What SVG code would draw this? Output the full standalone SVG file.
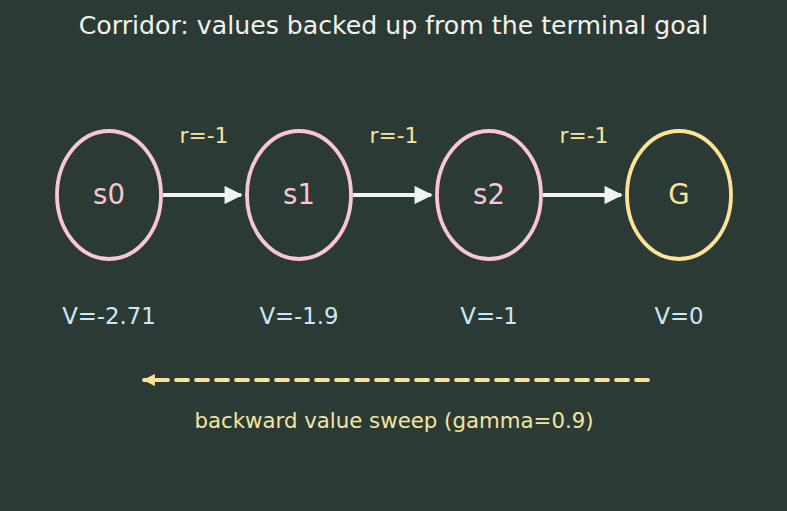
<svg xmlns="http://www.w3.org/2000/svg" width="787" height="511" viewBox="0 0 787 511">
<defs>
<marker id="ah" viewBox="0 0 10 10" refX="9" refY="5" markerWidth="5.2" markerHeight="4.8" orient="auto" markerUnits="strokeWidth">
<path d="M0,0 L10,5 L0,10 z" fill="#f4f4ee"/>
</marker>
<marker id="ahy" viewBox="0 0 10 10" refX="9" refY="5" markerWidth="3.2" markerHeight="3.2" orient="auto" markerUnits="strokeWidth">
<path d="M0,0 L10,5 L0,10 z" fill="#f9e29c"/>
</marker>
</defs>
<style>
text{font-family:"DejaVu Sans",sans-serif;text-anchor:middle}
.st{fill:none;stroke:#f8c6d4;stroke-width:3.8}
.gl{fill:none;stroke:#fbe49a;stroke-width:3.8}
.nl{font-size:27.5px;fill:#f8c6d4}
.gt{font-size:27.5px;fill:#fbe49a}
.r{font-size:21.8px;fill:#f2e6a0}
.sw{font-size:21.3px;fill:#f2e6a0}
.v{font-size:22.8px;fill:#cde8f5}
.e{stroke:#f4f4ee;stroke-width:3.8;fill:none;marker-end:url(#ah)}
</style>
<rect width="787" height="511" fill="#2b3a34"/>
<text x="393.5" y="34" font-size="25.2" fill="#f2f2ee">Corridor: values backed up from the terminal goal</text>
<g id="s0"><ellipse class="st" cx="109" cy="195" rx="52" ry="64"/><text class="nl" x="109" y="204">s0</text></g>
<g id="s1"><ellipse class="st" cx="299" cy="195" rx="52" ry="64"/><text class="nl" x="299" y="204">s1</text></g>
<g id="s2"><ellipse class="st" cx="489" cy="195" rx="52" ry="64"/><text class="nl" x="489" y="204">s2</text></g>
<g id="G"><ellipse class="gl" cx="679" cy="195" rx="52" ry="64"/><text class="gt" x="679" y="204">G</text></g>
<g id="connectors">
<line class="e" x1="163" y1="195" x2="241" y2="195"/>
<line class="e" x1="353" y1="195" x2="431" y2="195"/>
<line class="e" x1="543" y1="195" x2="621" y2="195"/>
<line x1="648" y1="380" x2="144" y2="380" stroke="#f9e29c" stroke-width="3.8" stroke-dasharray="12 8" stroke-linecap="round" marker-end="url(#ahy)"/>
</g>
<text class="r" x="204" y="143">r=-1</text>
<text class="r" x="394" y="143">r=-1</text>
<text class="r" x="584" y="143">r=-1</text>
<text class="v" x="109" y="324">V=-2.71</text>
<text class="v" x="299" y="324">V=-1.9</text>
<text class="v" x="489" y="324">V=-1</text>
<text class="v" x="679" y="324">V=0</text>
<text class="sw" x="394" y="428">backward value sweep (gamma=0.9)</text>
</svg>
